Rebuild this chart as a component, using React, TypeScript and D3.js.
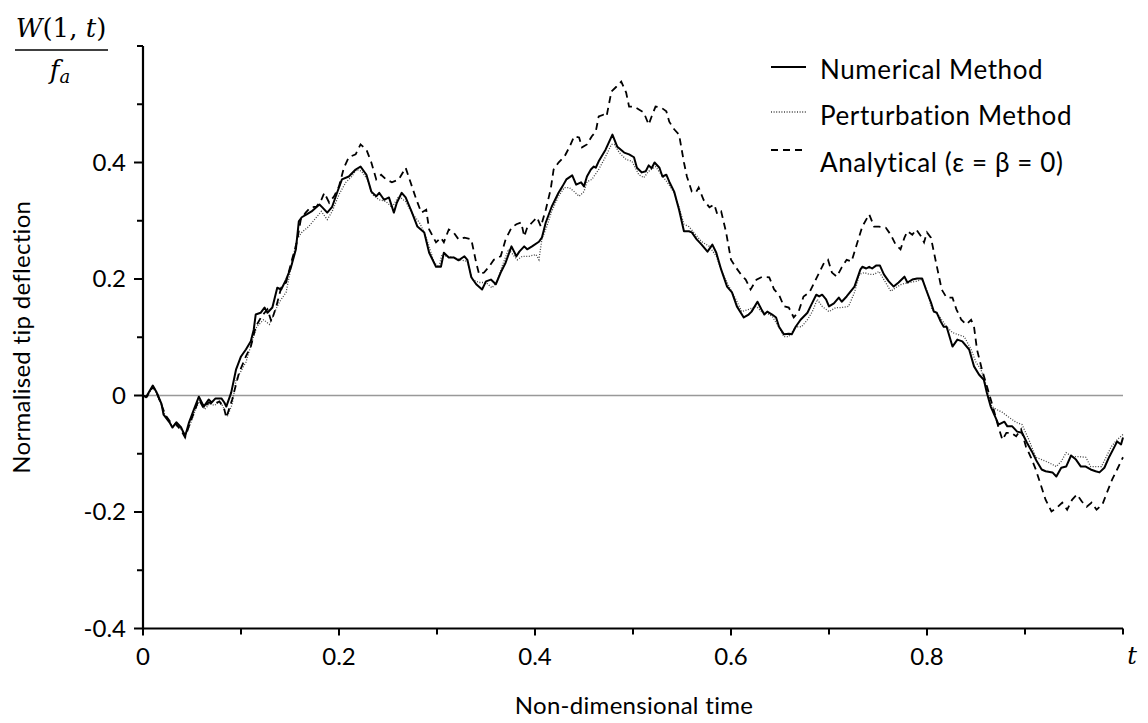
import React from "react";
import * as d3 from "d3";

// Normalised tip deflection W(1,t)/f_a against non-dimensional time t
const numerical: [number, number][] = [
  [0, 0], [0.003, -0.003], [0.010, 0.017], [0.014, 0.005], [0.019, -0.015], [0.021, -0.033],
  [0.027, -0.046], [0.030, -0.055], [0.034, -0.046], [0.039, -0.055], [0.043, -0.070], [0.047, -0.046],
  [0.052, -0.024], [0.057, -0.002], [0.062, -0.019], [0.067, -0.007], [0.070, -0.012], [0.074, -0.005],
  [0.080, -0.005], [0.083, -0.012], [0.085, -0.019], [0.090, 0.005], [0.095, 0.045], [0.100, 0.067],
  [0.105, 0.079], [0.110, 0.093], [0.113, 0.113], [0.115, 0.139], [0.120, 0.142], [0.124, 0.151],
  [0.127, 0.142], [0.132, 0.151], [0.137, 0.185], [0.141, 0.182], [0.146, 0.199], [0.151, 0.220],
  [0.156, 0.251], [0.159, 0.299], [0.162, 0.306], [0.167, 0.311], [0.172, 0.316], [0.180, 0.328],
  [0.183, 0.323], [0.188, 0.314], [0.193, 0.324], [0.198, 0.348], [0.203, 0.371], [0.210, 0.376],
  [0.217, 0.388], [0.222, 0.393], [0.228, 0.379], [0.233, 0.350], [0.238, 0.342], [0.241, 0.348],
  [0.246, 0.336], [0.251, 0.340], [0.256, 0.314], [0.259, 0.331], [0.264, 0.348], [0.268, 0.340],
  [0.274, 0.316], [0.280, 0.290], [0.287, 0.280], [0.292, 0.245], [0.299, 0.221], [0.304, 0.221],
  [0.307, 0.245], [0.312, 0.237], [0.317, 0.237], [0.322, 0.232], [0.328, 0.239], [0.331, 0.233],
  [0.335, 0.203], [0.340, 0.191], [0.346, 0.182], [0.350, 0.196], [0.355, 0.199], [0.360, 0.191],
  [0.365, 0.211], [0.370, 0.228], [0.376, 0.256], [0.381, 0.239], [0.384, 0.247], [0.389, 0.256],
  [0.392, 0.251], [0.397, 0.256], [0.404, 0.264], [0.407, 0.271], [0.411, 0.297], [0.417, 0.324],
  [0.424, 0.348], [0.428, 0.359], [0.432, 0.371], [0.438, 0.378], [0.442, 0.362], [0.447, 0.366],
  [0.450, 0.359], [0.453, 0.376], [0.457, 0.388], [0.460, 0.393], [0.462, 0.391], [0.465, 0.402],
  [0.472, 0.422], [0.479, 0.448], [0.484, 0.427], [0.491, 0.417], [0.496, 0.414], [0.501, 0.409],
  [0.504, 0.391], [0.509, 0.383], [0.513, 0.385], [0.516, 0.395], [0.519, 0.390], [0.522, 0.400],
  [0.527, 0.391], [0.530, 0.376], [0.534, 0.379], [0.537, 0.367], [0.542, 0.350], [0.547, 0.319],
  [0.552, 0.282], [0.557, 0.282], [0.560, 0.280], [0.565, 0.268], [0.570, 0.259], [0.576, 0.247],
  [0.581, 0.259], [0.585, 0.245], [0.590, 0.216], [0.596, 0.187], [0.601, 0.177], [0.606, 0.153],
  [0.613, 0.134], [0.618, 0.139], [0.621, 0.144], [0.627, 0.161], [0.631, 0.148], [0.634, 0.139],
  [0.637, 0.144], [0.642, 0.139], [0.646, 0.134], [0.649, 0.118], [0.654, 0.105], [0.659, 0.106],
  [0.662, 0.105], [0.666, 0.118], [0.671, 0.130], [0.678, 0.142], [0.682, 0.156], [0.687, 0.173],
  [0.690, 0.170], [0.693, 0.173], [0.697, 0.165], [0.700, 0.153], [0.705, 0.158], [0.710, 0.168],
  [0.713, 0.161], [0.718, 0.170], [0.726, 0.187], [0.732, 0.216], [0.734, 0.221], [0.738, 0.218],
  [0.741, 0.221], [0.744, 0.218], [0.748, 0.223], [0.752, 0.223], [0.756, 0.208], [0.761, 0.196],
  [0.766, 0.187], [0.771, 0.194], [0.777, 0.204], [0.780, 0.194], [0.785, 0.199], [0.790, 0.201],
  [0.795, 0.201], [0.799, 0.182], [0.804, 0.160], [0.807, 0.144], [0.810, 0.142], [0.814, 0.127],
  [0.817, 0.118], [0.820, 0.118], [0.826, 0.084], [0.831, 0.096], [0.836, 0.093], [0.843, 0.079],
  [0.848, 0.050], [0.853, 0.036], [0.858, 0.027], [0.861, 0.005], [0.865, -0.019], [0.870, -0.038],
  [0.873, -0.050], [0.879, -0.045], [0.882, -0.053], [0.887, -0.053], [0.892, -0.062], [0.897, -0.064],
  [0.902, -0.081], [0.907, -0.096], [0.912, -0.113], [0.917, -0.127], [0.921, -0.130], [0.928, -0.132],
  [0.932, -0.139], [0.937, -0.124], [0.942, -0.122], [0.947, -0.103], [0.952, -0.110], [0.957, -0.122],
  [0.962, -0.122], [0.967, -0.127], [0.972, -0.130], [0.976, -0.132], [0.981, -0.124], [0.986, -0.105],
  [0.991, -0.089], [0.994, -0.079], [0.998, -0.084], [1.000, -0.072],
];

const perturbation: [number, number][] = [
  [0, 0], [0.004, -0.003], [0.010, 0.014], [0.014, 0.003], [0.019, -0.019], [0.023, -0.036],
  [0.029, -0.050], [0.034, -0.052], [0.039, -0.058], [0.043, -0.067], [0.048, -0.050], [0.053, -0.027],
  [0.058, -0.007], [0.063, -0.024], [0.068, -0.014], [0.073, -0.017], [0.079, -0.010], [0.083, -0.024],
  [0.086, -0.036], [0.091, -0.015], [0.095, 0.027], [0.105, 0.057], [0.111, 0.091], [0.116, 0.118],
  [0.123, 0.130], [0.129, 0.122], [0.134, 0.142], [0.139, 0.160], [0.146, 0.177], [0.152, 0.228],
  [0.157, 0.268], [0.162, 0.280], [0.169, 0.290], [0.177, 0.306], [0.182, 0.316], [0.188, 0.302],
  [0.193, 0.316], [0.200, 0.345], [0.207, 0.366], [0.213, 0.376], [0.218, 0.388], [0.223, 0.385],
  [0.229, 0.371], [0.234, 0.345], [0.241, 0.336], [0.248, 0.333], [0.254, 0.323], [0.261, 0.342],
  [0.268, 0.333], [0.274, 0.314], [0.282, 0.297], [0.287, 0.280], [0.292, 0.256], [0.297, 0.228],
  [0.302, 0.221], [0.305, 0.242], [0.310, 0.239], [0.317, 0.237], [0.324, 0.233], [0.331, 0.230],
  [0.336, 0.199], [0.343, 0.194], [0.350, 0.194], [0.356, 0.185], [0.361, 0.194], [0.366, 0.220],
  [0.373, 0.251], [0.382, 0.233], [0.387, 0.239], [0.394, 0.239], [0.401, 0.242], [0.404, 0.233],
  [0.407, 0.268], [0.412, 0.290], [0.417, 0.316], [0.424, 0.342], [0.430, 0.357], [0.435, 0.357],
  [0.440, 0.350], [0.445, 0.342], [0.450, 0.350], [0.453, 0.367], [0.458, 0.371], [0.465, 0.388],
  [0.472, 0.410], [0.478, 0.431], [0.481, 0.431], [0.486, 0.417], [0.493, 0.405], [0.499, 0.402],
  [0.506, 0.379], [0.511, 0.374], [0.516, 0.385], [0.523, 0.393], [0.529, 0.379], [0.535, 0.366],
  [0.542, 0.348], [0.547, 0.323], [0.552, 0.294], [0.557, 0.290], [0.564, 0.276], [0.570, 0.264],
  [0.578, 0.256], [0.585, 0.239], [0.591, 0.211], [0.598, 0.187], [0.605, 0.165], [0.611, 0.144],
  [0.618, 0.148], [0.626, 0.153], [0.631, 0.144], [0.636, 0.142], [0.642, 0.136], [0.649, 0.117],
  [0.654, 0.101], [0.659, 0.101], [0.666, 0.118], [0.672, 0.118], [0.678, 0.130], [0.683, 0.144],
  [0.688, 0.165], [0.693, 0.153], [0.700, 0.144], [0.707, 0.151], [0.713, 0.151], [0.720, 0.153],
  [0.726, 0.177], [0.731, 0.208], [0.736, 0.211], [0.741, 0.208], [0.746, 0.208], [0.751, 0.213],
  [0.756, 0.199], [0.763, 0.179], [0.768, 0.185], [0.774, 0.191], [0.782, 0.194], [0.789, 0.196],
  [0.795, 0.199], [0.800, 0.179], [0.805, 0.148], [0.810, 0.142], [0.815, 0.130], [0.820, 0.118],
  [0.826, 0.108], [0.831, 0.105], [0.838, 0.101], [0.845, 0.079], [0.850, 0.057], [0.855, 0.045],
  [0.861, 0.015], [0.866, -0.019], [0.871, -0.024], [0.877, -0.029], [0.884, -0.038], [0.891, -0.046],
  [0.897, -0.050], [0.904, -0.076], [0.911, -0.106], [0.917, -0.110], [0.924, -0.115], [0.932, -0.122],
  [0.937, -0.113], [0.942, -0.098], [0.948, -0.105], [0.955, -0.105], [0.962, -0.106], [0.967, -0.122],
  [0.972, -0.122], [0.978, -0.122], [0.983, -0.105], [0.988, -0.088], [0.994, -0.076], [1.000, -0.067],
];

const analytical: [number, number][] = [
  [0, 0], [0.004, -0.002], [0.010, 0.015], [0.014, 0.005], [0.019, -0.017], [0.023, -0.034],
  [0.029, -0.048], [0.034, -0.050], [0.039, -0.060], [0.043, -0.072], [0.047, -0.052], [0.052, -0.029],
  [0.057, -0.007], [0.062, -0.022], [0.067, -0.012], [0.072, -0.015], [0.078, -0.010], [0.083, -0.024],
  [0.085, -0.038], [0.091, -0.007], [0.098, 0.039], [0.105, 0.067], [0.110, 0.084], [0.115, 0.118],
  [0.121, 0.136], [0.127, 0.148], [0.131, 0.127], [0.136, 0.153], [0.141, 0.185], [0.146, 0.194],
  [0.152, 0.233], [0.157, 0.263], [0.161, 0.302], [0.166, 0.314], [0.171, 0.323], [0.177, 0.324],
  [0.182, 0.336], [0.185, 0.348], [0.190, 0.331], [0.195, 0.342], [0.200, 0.359], [0.205, 0.391],
  [0.210, 0.409], [0.217, 0.414], [0.222, 0.431], [0.228, 0.422], [0.233, 0.400], [0.238, 0.371],
  [0.243, 0.379], [0.248, 0.371], [0.254, 0.366], [0.261, 0.371], [0.268, 0.391], [0.273, 0.366],
  [0.279, 0.336], [0.284, 0.314], [0.289, 0.319], [0.292, 0.285], [0.299, 0.263], [0.304, 0.271],
  [0.307, 0.263], [0.312, 0.285], [0.317, 0.280], [0.322, 0.268], [0.328, 0.271], [0.335, 0.268],
  [0.340, 0.228], [0.343, 0.208], [0.348, 0.211], [0.353, 0.221], [0.358, 0.233], [0.365, 0.239],
  [0.370, 0.268], [0.376, 0.288], [0.381, 0.294], [0.386, 0.297], [0.389, 0.273], [0.392, 0.288],
  [0.397, 0.297], [0.402, 0.306], [0.406, 0.290], [0.411, 0.319], [0.416, 0.354], [0.419, 0.388],
  [0.424, 0.400], [0.430, 0.410], [0.435, 0.426], [0.440, 0.445], [0.445, 0.443], [0.448, 0.426],
  [0.453, 0.431], [0.458, 0.445], [0.462, 0.453], [0.465, 0.479], [0.470, 0.482], [0.473, 0.479],
  [0.478, 0.522], [0.483, 0.530], [0.488, 0.539], [0.493, 0.520], [0.496, 0.496], [0.501, 0.496],
  [0.506, 0.491], [0.511, 0.486], [0.516, 0.465], [0.519, 0.479], [0.523, 0.496], [0.529, 0.494],
  [0.534, 0.488], [0.537, 0.470], [0.542, 0.457], [0.547, 0.448], [0.552, 0.400], [0.555, 0.376],
  [0.560, 0.350], [0.564, 0.348], [0.567, 0.357], [0.572, 0.336], [0.578, 0.323], [0.583, 0.328],
  [0.586, 0.311], [0.590, 0.316], [0.595, 0.280], [0.600, 0.233], [0.605, 0.220], [0.610, 0.208],
  [0.615, 0.199], [0.620, 0.182], [0.626, 0.199], [0.632, 0.204], [0.639, 0.203], [0.644, 0.182],
  [0.649, 0.173], [0.654, 0.153], [0.659, 0.151], [0.664, 0.134], [0.669, 0.144], [0.674, 0.170],
  [0.680, 0.177], [0.685, 0.194], [0.690, 0.211], [0.695, 0.228], [0.699, 0.233], [0.703, 0.211],
  [0.708, 0.204], [0.713, 0.220], [0.718, 0.233], [0.723, 0.230], [0.729, 0.263], [0.734, 0.290],
  [0.741, 0.311], [0.746, 0.290], [0.751, 0.290], [0.758, 0.288], [0.763, 0.276], [0.768, 0.259],
  [0.773, 0.251], [0.777, 0.271], [0.780, 0.282], [0.785, 0.276], [0.789, 0.285], [0.794, 0.273],
  [0.797, 0.263], [0.800, 0.280], [0.804, 0.271], [0.809, 0.230], [0.815, 0.182], [0.820, 0.168],
  [0.826, 0.168], [0.830, 0.148], [0.835, 0.130], [0.840, 0.122], [0.845, 0.130], [0.848, 0.118],
  [0.851, 0.079], [0.856, 0.045], [0.863, 0.005], [0.868, -0.024], [0.873, -0.055], [0.877, -0.076],
  [0.881, -0.064], [0.886, -0.064], [0.891, -0.070], [0.896, -0.058], [0.901, -0.088], [0.906, -0.106],
  [0.911, -0.127], [0.916, -0.153], [0.921, -0.179], [0.927, -0.199], [0.933, -0.192], [0.938, -0.184],
  [0.943, -0.196], [0.948, -0.179], [0.953, -0.170], [0.958, -0.182], [0.963, -0.191], [0.968, -0.184],
  [0.973, -0.196], [0.979, -0.187], [0.984, -0.165], [0.989, -0.144], [0.994, -0.127], [1.000, -0.106],
];

const xMajorTicks = [0, 0.2, 0.4, 0.6, 0.8];
const xMinorTicks = [0.1, 0.3, 0.5, 0.7, 0.9, 1.0];
const yMajorTicks = [-0.4, -0.2, 0, 0.2, 0.4];
const yMinorTicks = [-0.3, -0.1, 0.1, 0.3, 0.5, 0.6];

const legendItems = [
  { label: "Numerical Method", dash: "none", color: "#000", width: 2 },
  { label: "Perturbation Method", dash: "1 1.6", color: "#444", width: 1.3 },
  { label: "Analytical (ε = β = 0)", dash: "7 5", color: "#000", width: 1.8 },
];

const FONT = "Lato, 'Open Sans', sans-serif";
const MATH = "'DejaVu Serif', serif";

export default function App() {
  const W = 1148;
  const H = 723;
  const x = d3.scaleLinear().domain([0, 1]).range([143, 1123]);
  const y = d3.scaleLinear().domain([-0.4, 0.6]).range([628.5, 46]);

  const line = d3
    .line<[number, number]>()
    .x((d) => x(d[0]))
    .y((d) => y(d[1]))
    .curve(d3.curveLinear);

  // plain hyphen for negatives, as in the printed figure
  const fmt = (v: number) => (v === 0 ? "0" : v.toFixed(1));

  return (
    <svg
      width={W}
      height={H}
      style={{ position: "absolute", left: 0, top: 0, background: "#fff" }}
    >
      {/* zero reference line */}
      <line x1={x(0)} x2={x(1)} y1={y(0)} y2={y(0)} stroke="#999" strokeWidth={1.5} />

      {/* series */}
      <path d={line(perturbation) || ""} fill="none" stroke="#444" strokeWidth={1.3} strokeDasharray="1 1.6" />
      <path d={line(analytical) || ""} fill="none" stroke="#000" strokeWidth={1.8} strokeDasharray="7 5" />
      <path d={line(numerical) || ""} fill="none" stroke="#000" strokeWidth={2} strokeLinejoin="round" />

      {/* axes */}
      <line x1={x(0)} x2={x(0)} y1={y(0.6)} y2={y(-0.4) + 1} stroke="#000" strokeWidth={2.2} />
      <line x1={x(0) - 1} x2={x(1)} y1={y(-0.4)} y2={y(-0.4)} stroke="#000" strokeWidth={2.2} />

      {yMajorTicks.map((v) => (
        <g key={"ym" + v}>
          <line x1={x(0) - 9} x2={x(0)} y1={y(v)} y2={y(v)} stroke="#000" strokeWidth={2} />
          <text
            x={x(0) - 17}
            y={y(v)}
            dy="0.35em"
            textAnchor="end"
            fontFamily={FONT}
            fontSize={24}
            fill="#000"
          >
            {fmt(v)}
          </text>
        </g>
      ))}
      {yMinorTicks.map((v) => (
        <line key={"yn" + v} x1={x(0) - 6} x2={x(0)} y1={y(v)} y2={y(v)} stroke="#000" strokeWidth={2} />
      ))}

      {xMajorTicks.map((v) => (
        <g key={"xm" + v}>
          <line x1={x(v)} x2={x(v)} y1={y(-0.4)} y2={y(-0.4) + 7} stroke="#000" strokeWidth={2} />
          <text
            x={x(v)}
            y={y(-0.4) + 36}
            textAnchor="middle"
            fontFamily={FONT}
            fontSize={24}
            fill="#000"
          >
            {fmt(v)}
          </text>
        </g>
      ))}
      {xMinorTicks.map((v) => (
        <line key={"xn" + v} x1={x(v)} x2={x(v)} y1={y(-0.4)} y2={y(-0.4) + 6} stroke="#000" strokeWidth={2} />
      ))}
      <text x={x(1) + 9} y={y(-0.4) + 35} fontFamily={MATH} fontStyle="italic" fontSize={24} textAnchor="middle">
        t
      </text>

      {/* axis titles */}
      <text
        x={634}
        y={714}
        textAnchor="middle"
        fontFamily={FONT}
        fontSize={24}
        letterSpacing={0.3}
        fill="#000"
      >
        Non-dimensional time
      </text>
      <text
        transform={`translate(30, ${y(0.1)}) rotate(-90)`}
        textAnchor="middle"
        fontFamily={FONT}
        fontSize={24}
        letterSpacing={0.3}
        fill="#000"
      >
        Normalised tip deflection
      </text>

      {/* quantity label: W(1,t) / f_a */}
      <text x={61} y={37} textAnchor="middle" fontFamily={MATH} fontSize={26} fill="#000">
        <tspan fontStyle="italic">W</tspan>
        <tspan>(1, </tspan>
        <tspan fontStyle="italic">t</tspan>
        <tspan>)</tspan>
      </text>
      <line x1={15} x2={108} y1={50} y2={50} stroke="#000" strokeWidth={1.6} />
      <text x={60} y={79} textAnchor="middle" fontFamily={MATH} fontSize={26} fill="#000">
        <tspan fontStyle="italic">f</tspan>
        <tspan fontStyle="italic" fontSize={18} dy={4}>a</tspan>
      </text>

      {/* legend */}
      {legendItems.map((item, i) => {
        const cy = [67, 112, 150][i];
        const ty = [70, 116, 163][i];
        return (
          <g key={item.label}>
            <line
              x1={771}
              x2={806}
              y1={cy}
              y2={cy}
              stroke={item.color}
              strokeWidth={item.width}
              strokeDasharray={item.dash}
            />
            <text
              x={820}
              y={ty}
              dy="0.35em"
              fontFamily={FONT}
              fontSize={26}
              letterSpacing={0.6}
              fill="#000"
            >
              {item.label}
            </text>
          </g>
        );
      })}
    </svg>
  );
}
